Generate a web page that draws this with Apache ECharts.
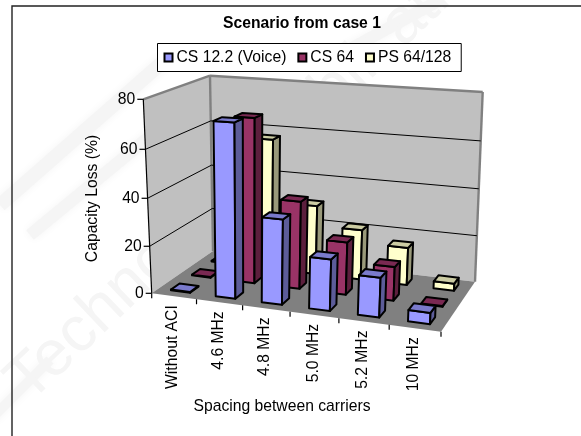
<!DOCTYPE html>
<html><head><meta charset="utf-8">
<style>html,body{margin:0;padding:0;background:#fff}#c{width:581px;height:436px}</style>
<script src="https://cdn.jsdelivr.net/npm/echarts@6/dist/echarts.min.js"></script>
</head><body><div id="c"></div>
<script>
var categories = ['Without ACI','4.6 MHz','4.8 MHz','5.0 MHz','5.2 MHz','10 MHz'];
var yTicks = [0,20,40,60,80];
var voice = [0.3,72,35,21,16,4.5];
var cs64 = [0.3,70,37,22,14,0.3];
var ps = [0.3,57,30,21.5,16,3];
var chartTitle = 'Scenario from case 1';
var yName = 'Capacity Loss (%)';
var xName = 'Spacing between carriers';

var W = 581, H = 436, FONT = '"Liberation Sans",Arial,sans-serif', FS = 15.7;
function homography(q){
  var x0=q[0][0],y0=q[0][1],x1=q[1][0],y1=q[1][1],x2=q[2][0],y2=q[2][1],x3=q[3][0],y3=q[3][1];
  var sx=x0-x1+x2-x3, sy=y0-y1+y2-y3, dx1=x1-x2, dx2=x3-x2, dy1=y1-y2, dy2=y3-y2;
  var det=dx1*dy2-dx2*dy1, g=(sx*dy2-dx2*sy)/det, h=(dx1*sy-sx*dy1)/det;
  var a=x1-x0+g*x1,b=x3-x0+h*x3,d=y1-y0+g*y1,e=y3-y0+h*y3;
  return function(u,v){var w=g*u+h*v+1;return [(a*u+b*v+x0)/w,(d*u+e*v+y0)/w];};
}
var floorH = homography([[151.7,293.3],[441,331.7],[475,281.7],[213,251]]);
var topH = homography([[143.3,99.3],[450,119],[482.7,92],[210,75.7]]);
function project(u,t,d){
  var a=floorH(u,d), b=topH(u,d), s=t*0.96/(1-0.04*t);
  return [a[0]+(b[0]-a[0])*s, a[1]+(b[1]-a[1])*s];
}
function uOf(api,i){return api.coord([i,0])[0]/W;}
function tOf(api,v){return (H-api.coord([0,v])[1])/H;}
function poly(pts,fill,stroke,lw){
  return {type:'polygon',shape:{points:pts},style:{fill:fill,stroke:stroke,lineWidth:lw,lineJoin:'round'}};
}
function seg(a,b,color,lw){
  return {type:'line',shape:{x1:a[0],y1:a[1],x2:b[0],y2:b[1]},style:{stroke:color,lineWidth:lw,fill:null}};
}
function label(x,y,text,align,vAlign,rot){
  return {type:'text',x:x,y:y,rotation:rot||0,style:{text:text,fill:'#000',font:FS+'px '+FONT,align:align,verticalAlign:vAlign}};
}
function wallsItem(params,api){
  var t1=1;
  return {type:'group',children:[
    poly([project(0,0,0),project(0,t1,0),project(0,t1,1),project(0,0,1)],'#c0c0c0','none',0),
    poly([project(0,0,1),project(0,t1,1),project(1,t1,1),project(1,0,1)],'#c0c0c0','none',0),
    poly([project(0,0,0),project(1,0,0),project(1,0,1),project(0,0,1)],'#808080','none',0),
    seg(project(0,1,0),project(0,1,1),'#808080',2.4),
    seg(project(0,1,1),project(1,1,1),'#808080',2.4),
    seg(project(0,0,1),project(0,1,1),'#808080',2.4),
    seg(project(1,0,1),project(1,1,1),'#808080',2.4),
    seg(project(0,0,0),project(0,1,0),'#000',1.2)
  ]};
}
function yTickItem(params,api){
  var v=api.value(0), t=tOf(api,v), a=project(0,t,0), b=project(0,t,1), c=project(1,t,1), kids=[];
  if(v>0&&v<80){kids.push(seg(a,b,'#000',1),seg(b,c,'#000',1));}
  kids.push(seg([a[0]-6,a[1]],a,'#000',1.2));
  kids.push(label(a[0]-8,a[1],String(v),'right','middle'));
  return {type:'group',children:kids};
}
function xTickItem(params,api){
  var i=api.value(0), ub=api.size([1,0])[0]/W, u=uOf(api,i), left=project(u-ub/2,0,0), right=project(u+ub/2,0,0), c=project(u,0,0), kids=[];
  kids.push(seg(left,[left[0],left[1]+5],'#000',1.2));
  if(i===categories.length-1)kids.push(seg(right,[right[0],right[1]+5],'#000',1.2));
  kids.push(label(c[0]-1,c[1]+9,categories[i],'right','middle',Math.PI/2));
  return {type:'group',children:kids};
}
function barRenderer(row,front,side,top){
  return function(params,api){
    var i=api.value(0), ub=api.size([1,0])[0]/W, u=uOf(api,i), hw=ub*0.215;
    var t=tOf(api,api.value(1)), d0=(row+0.5)/3-0.2/3, d1=(row+0.5)/3+0.2/3, u0=u-hw, u1=u+hw, lw=2, s='#000';
    return {type:'group',children:[
      poly([project(u0,0,d0),project(u1,0,d0),project(u1,t,d0),project(u0,t,d0)],front,s,lw),
      poly([project(u1,0,d0),project(u1,0,d1),project(u1,t,d1),project(u1,t,d0)],side,s,lw),
      poly([project(u0,t,d0),project(u1,t,d0),project(u1,t,d1),project(u0,t,d1)],top,s,lw)
    ]};
  };
}
function barSeries(name,values,row,front,side,top){
  return {type:'custom',name:name,clip:false,itemStyle:{color:front},
    data:values.map(function(v,i){return [i,v];}),encode:{x:0,y:1},
    renderItem:barRenderer(row,front,side,top)};
}
var wm='#f5f5f5';
function band(x1,y1,x2,y2,w){return {type:'line',silent:true,z:-5,shape:{x1:x1,y1:y1,x2:x2,y2:y2},style:{stroke:wm,lineWidth:w,shadowBlur:8,shadowColor:wm}};}
var option={
  animation:false,backgroundColor:'#fff',
  title:{text:chartTitle,left:297,top:11,textAlign:'center',textStyle:{fontFamily:FONT,fontSize:FS,fontWeight:'bold',color:'#000'}},
  legend:{left:157.5,top:43.5,orient:'horizontal',data:['CS 12.2 (Voice)','CS 64','PS 64/128'],
    icon:'rect',itemWidth:8,itemHeight:8,itemGap:11,padding:[6,10,6,6],borderColor:'#000',borderWidth:1,
    backgroundColor:'#fff',textStyle:{fontFamily:FONT,fontSize:FS,color:'#000',padding:[0,0,0,-1]},
    itemStyle:{borderColor:'#000',borderWidth:2},selectedMode:false},
  grid:{left:0,right:0,top:0,bottom:0},
  xAxis:{type:'category',data:categories,show:false},
  yAxis:{type:'value',min:0,max:80,show:false},
  graphic:[
    band(0,205,165,60,14),band(30,235,200,95,12),band(-10,420,50,360,10),band(330,60,440,0,12),
    {type:'text',silent:true,z:-4,x:-5,y:368,rotation:0.76,style:{text:'Technology Publications',fill:wm,font:'64px '+FONT,shadowBlur:4,shadowColor:wm}},
    {type:'rect',silent:true,z:-3,shape:{x:12,y:6,width:700,height:600},style:{fill:null,stroke:'#222',lineWidth:1.4}},
    {type:'text',silent:true,x:93,y:198.5,rotation:Math.PI/2,style:{text:yName,fill:'#000',font:FS+'px '+FONT,align:'center',verticalAlign:'middle'}},
    {type:'text',silent:true,x:282,y:407,style:{text:xName,fill:'#000',font:FS+'px '+FONT,align:'center',verticalAlign:'middle'}}
  ],
  series:[
    {type:'custom',name:'walls',clip:false,silent:true,data:[[0,0]],renderItem:wallsItem},
    {type:'custom',name:'yTicks',clip:false,silent:true,data:yTicks.map(function(v){return [v];}),encode:{y:0},renderItem:yTickItem},
    {type:'custom',name:'xTicks',clip:false,silent:true,data:categories.map(function(c,i){return [i];}),encode:{x:0},renderItem:xTickItem},
    barSeries('PS 64/128',ps,2,'#ffffcc','#99997a','#cccca3'),
    barSeries('CS 64',cs64,1,'#993366','#5c1f3d','#7a2952'),
    barSeries('CS 12.2 (Voice)',voice,0,'#9999ff','#5c5c99','#7a7acc')
  ]
};
echarts.init(document.getElementById('c'),null,{renderer:'canvas'}).setOption(option);
</script></body></html>
